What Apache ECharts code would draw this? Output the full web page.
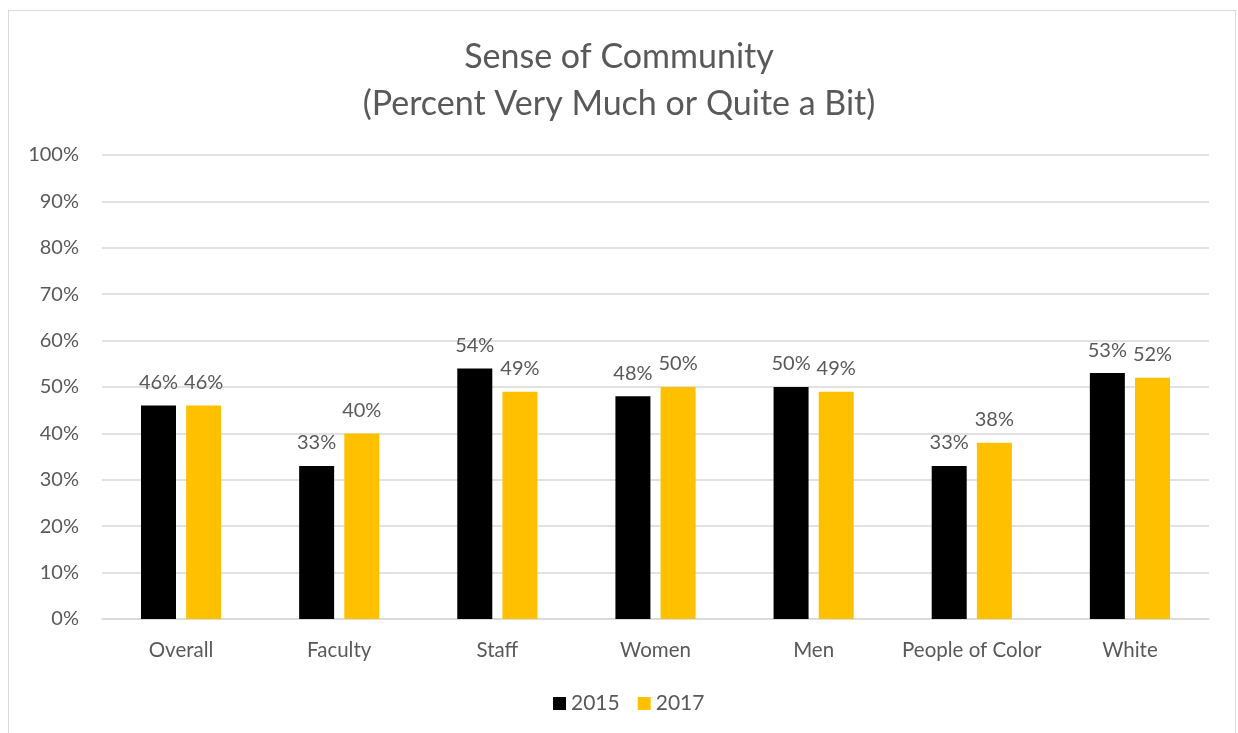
<!DOCTYPE html>
<html>
<head>
<meta charset="utf-8">
<style>
  html, body { margin: 0; padding: 0; background: #fff; }
  #frame { position: absolute; left: 8px; top: 10px; width: 1228px; height: 740px; border: 1px solid #d9d9d9; box-sizing: border-box; }
  #chart { position: absolute; left: 0; top: 0; width: 1238px; height: 733px; }
</style>
<script src="https://cdn.jsdelivr.net/npm/echarts@6/dist/echarts.min.js"></script>
</head>
<body>
<div id="frame"></div>
<div id="chart"></div>
<script>
const categories = ['Overall', 'Faculty', 'Staff', 'Women', 'Men', 'People of Color', 'White'];
const values2015 = [46, 33, 54, 48, 50, 33, 53];
const values2017 = [46, 40, 49, 50, 49, 38, 52];
const yTicks = [0, 10, 20, 30, 40, 50, 60, 70, 80, 90, 100];

const FONT = 'Lato, "Open Sans", sans-serif';
const TEXT = '#595959';

const chart = echarts.init(document.getElementById('chart'), null, { renderer: 'canvas' });

const barLabel = {
  show: true,
  position: 'top',
  distance: 13,
  color: TEXT,
  fontFamily: FONT,
  fontSize: 20,
  formatter: p => p.value + '%'
};

chart.setOption({
  animation: false,
  title: {
    text: 'Sense of Community\n(Percent Very Much or Quite a Bit)',
    left: 'center',
    top: 29,
    textStyle: { color: TEXT, fontFamily: FONT, fontSize: 34, fontWeight: 'normal', lineHeight: 47 }
  },
  legend: {
    bottom: 14,
    left: 548,
    itemWidth: 13,
    itemHeight: 13,
    itemGap: 18,
    icon: 'rect',
    textStyle: { color: TEXT, fontFamily: FONT, fontSize: 21 },
    data: ['2015', '2017']
  },
  grid: { left: 102, top: 155, width: 1107, height: 464, containLabel: false },
  xAxis: {
    type: 'category',
    data: categories,
    axisLine: { lineStyle: { color: '#d9d9d9', width: 1.5 } },
    axisTick: { show: false },
    axisLabel: { color: TEXT, fontFamily: FONT, fontSize: 20.5, margin: 21, interval: 0 }
  },
  yAxis: {
    type: 'value',
    min: yTicks[0],
    max: yTicks[yTicks.length - 1],
    interval: 10,
    axisLine: { show: false },
    axisTick: { show: false },
    splitLine: { lineStyle: { color: '#d9d9d9', width: 1.5 } },
    axisLabel: { color: TEXT, fontFamily: FONT, fontSize: 20, margin: 23, formatter: v => v + '%' }
  },
  series: [
    {
      name: '2015', type: 'bar', data: values2015,
      barWidth: 35, barGap: '29%',
      itemStyle: { color: '#000000' },
      label: barLabel
    },
    {
      name: '2017', type: 'bar', data: values2017,
      barWidth: 35,
      itemStyle: { color: '#FFC000' },
      label: barLabel
    }
  ]
});
</script>
</body>
</html>
